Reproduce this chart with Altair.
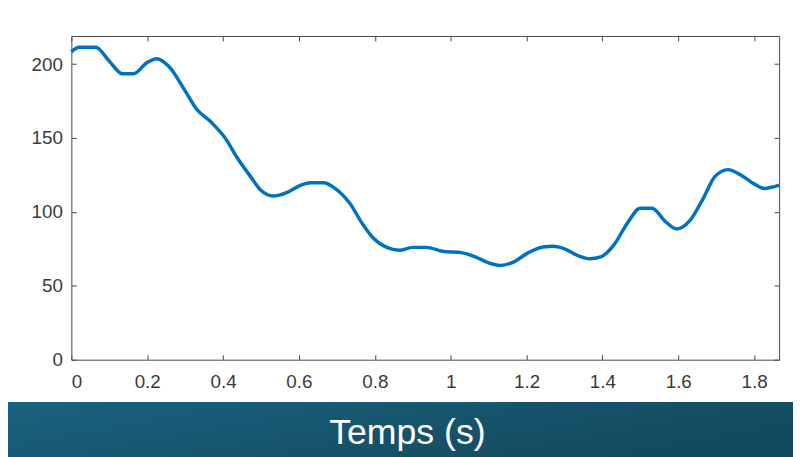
import altair as alt
import pandas as pd

# Data
t = [0, 0.021, 0.064, 0.10, 0.134, 0.164, 0.199, 0.225, 0.256, 0.30, 0.33, 0.369,
     0.404, 0.439, 0.473, 0.499, 0.533, 0.569, 0.60, 0.63, 0.665, 0.695, 0.734,
     0.769, 0.796, 0.835, 0.865, 0.90, 0.935, 0.978, 1.031, 1.065, 1.10, 1.131,
     1.161, 1.204, 1.244, 1.27, 1.30, 1.335, 1.366, 1.396, 1.431, 1.466, 1.50,
     1.531, 1.566, 1.596, 1.631, 1.666, 1.696, 1.731, 1.766, 1.801, 1.827, 1.866]
v = [208.3, 211.4, 211.4, 202, 193.5, 193.5, 200.9, 203.6, 198.7, 181.9, 169.6, 160.6,
     150.5, 136, 123.7, 114.8, 110.7, 113.2, 117.5, 119.7, 119.7, 115.9, 105.8,
     91.3, 82.3, 75.6, 74, 76, 76, 73.4, 72.3, 69.6, 65.5, 63.8,
     65.5, 72.3, 76.3, 76.7, 75, 70.5, 68.3, 69.6, 77.9, 92.4, 102.5,
     102.5, 93.5, 88.4, 94.2, 109.2, 123.7, 128.6, 124.8, 118.8, 115.9, 118.1]

x_ticks = [0, 0.2, 0.4, 0.6, 0.8, 1, 1.2, 1.4, 1.6, 1.8]
y_ticks = [0, 50, 100, 150, 200]
x_title = "Temps (s)"

df = pd.DataFrame({"t": t, "v": v})

W, H = 715, 327
PAD = {"left": 64, "top": 26, "right": 14, "bottom": 96}

FONT = "Liberation Sans"
AX = "#4a4a4a"
LAB = "#3a3a3a"

xscale = alt.Scale(domain=[0, 1.866], nice=False, zero=False)
yscale = alt.Scale(domain=[0, 219], nice=False)

common_axis = dict(offset=-5, tickSize=5, domain=False, grid=False,
                   tickColor=AX, tickWidth=1)

band = alt.Chart(df).mark_rect(
    color=alt.LinearGradient(
        gradient="linear",
        stops=[alt.GradientStop(color="#1a6280", offset=0),
               alt.GradientStop(color="#134a5e", offset=1)],
        x1=0, x2=1, y1=0, y2=0.4,
    ),
    clip=False,
).encode(
    x=alt.value(-PAD["left"]), x2=alt.value(W + PAD["right"]),
    y=alt.value(H + 43), y2=alt.value(H + PAD["bottom"] + 5),
)

line = alt.Chart(df).mark_line(color="#0072BD", strokeWidth=3.5, interpolate="monotone").encode(
    x=alt.X("t:Q", scale=xscale,
            axis=alt.Axis(orient="bottom", values=x_ticks, format=".1~f",
                          labelFont=FONT, labelFontSize=19, labelColor=LAB,
                          labelPadding=13, zindex=2,
                          title=x_title, titleFont=FONT, titleFontSize=36,
                          titleFontWeight="normal", titleColor="white",
                          titleX=339, titleY=90, titleAlign="center",
                          titleBaseline="alphabetic", titleAnchor="start",
                          **common_axis)),
    y=alt.Y("v:Q", scale=yscale,
            axis=alt.Axis(orient="left", values=y_ticks,
                          labelFont=FONT, labelFontSize=19, labelColor=LAB,
                          labelPadding=9, title=None, **common_axis)),
)

frame = alt.Chart(df).mark_line(opacity=0).encode(
    x=alt.X("t:Q", scale=xscale,
            axis=alt.Axis(orient="top", values=x_ticks, labels=False, title=None,
                          **common_axis)),
    y=alt.Y("v:Q", scale=yscale,
            axis=alt.Axis(orient="right", values=y_ticks, labels=False, title=None,
                          **common_axis)),
)

chart = alt.layer(band, line, frame).resolve_axis(
    x="independent", y="independent"
).properties(
    width=W, height=H,
    padding=PAD,
    autosize=alt.AutoSizeParams(type="none"),
    background="white",
).configure_view(
    stroke=AX, strokeWidth=1, fill="white"
)

chart.save("out.html", embed_options={"renderer": "svg", "actions": False})
